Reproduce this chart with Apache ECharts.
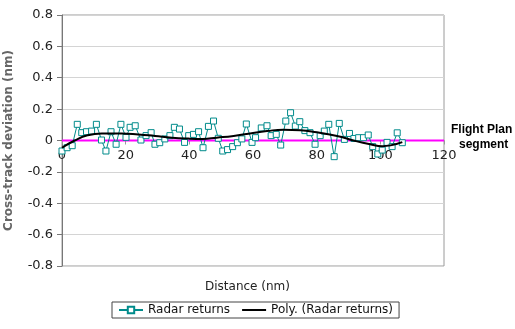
<!DOCTYPE html>
<html><head><meta charset="utf-8">
<script src="https://cdn.jsdelivr.net/npm/echarts@6/dist/echarts.min.js"></script>
<style>html,body{margin:0;padding:0;background:#fff;}#c{width:515px;height:329px;}</style>
</head><body><div id="c"></div>
<script>
var distance = [0, 1.6, 3.2, 4.8, 6.2, 7.7, 9.3, 10.8, 12.4, 13.8,
  15.4, 17.0, 18.5, 20.1, 21.4, 23.0, 24.8, 26.4, 28.0, 29.2,
  30.7, 32.3, 33.9, 35.3, 36.9, 38.5, 39.8, 41.3, 42.9, 44.3,
  46.0, 47.6, 49.1, 50.5, 52.0, 53.6, 55.1, 56.5, 57.9, 59.7,
  60.8, 62.6, 64.4, 65.7, 67.3, 68.7, 70.3, 71.8, 73.3, 74.7,
  76.3, 77.9, 79.5, 81.1, 82.4, 83.8, 85.5, 87.1, 88.7, 90.3,
  91.7, 93.2, 94.7, 96.2, 97.6, 99.2, 100.6, 102.1, 103.7, 105.3,
  106.9];
var radarReturns = [-0.067, -0.046, -0.033, 0.103, 0.05, 0.056, 0.06, 0.103, 0.003, -0.067,
  0.056, -0.024, 0.103, 0.02, 0.084, 0.094, 0.003, 0.031, 0.05, -0.024,
  -0.014, 0.01, 0.031, 0.084, 0.073, -0.012, 0.031, 0.039, 0.056, -0.046,
  0.09, 0.124, 0.014, -0.067, -0.058, -0.039, -0.014, 0.01, 0.105, -0.012,
  0.018, 0.08, 0.094, 0.031, 0.039, -0.029, 0.124, 0.177, 0.092, 0.12,
  0.063, 0.05, -0.024, 0.031, 0.06, 0.103, -0.103, 0.109, 0.007, 0.045,
  0.013, 0.018, 0.018, 0.035, -0.039, -0.086, -0.061, -0.012, -0.039, 0.049,
  -0.014];
var trendDistance = [0, 4, 8, 12.5, 18.7, 24, 29.2, 34.5, 39.7, 44.2, 48.6, 53.9, 59.1, 64.4, 69.6, 74.9, 80.1, 86.4, 91.6, 96.8, 100.6, 103.2, 106.9];
var trendValues = [-0.046, 0.0, 0.033, 0.045, 0.045, 0.039, 0.029, 0.018, 0.012, 0.01, 0.018, 0.029, 0.045, 0.06, 0.069, 0.066, 0.052, 0.029, 0.0, -0.024, -0.036, -0.031, -0.01];
var flightPlanDistance = [0, 120];
var flightPlanValues = [0, 0];
var xTicks = [0, 20, 40, 60, 80, 100, 120];
var yTicks = [-0.8, -0.6, -0.4, -0.2, 0, 0.2, 0.4, 0.6, 0.8];

function pairs(xs, ys){ return xs.map(function(x,i){ return [x, ys[i]]; }); }

var font = 'DejaVu Sans';
var gridTop = 15, gridBottom = 63, H = 329;
var zeroOffset = -((H - gridBottom) - gridTop) / 2;
var chart = echarts.init(document.getElementById('c'));
chart.setOption({
  animation: false,
  backgroundColor: '#fff',
  textStyle: {fontFamily: font},
  grid: {left: 62, right: 71, top: gridTop, bottom: gridBottom, show: true, borderColor: '#9a9a9a', borderWidth: 1,
    backgroundColor: 'transparent', containLabel: false, outerBoundsMode: 'none'},
  xAxis: {
    type: 'value', min: xTicks[0], max: xTicks[xTicks.length-1], interval: 20,
    position: 'bottom', offset: zeroOffset,
    axisLine: {onZero: false, lineStyle: {color: '#9a9a9a'}},
    axisTick: {show: true, length: 4, inside: false, lineStyle: {color: '#9a9a9a'}},
    axisLabel: {fontFamily: font, fontSize: 13, color: '#222', margin: 9},
    splitLine: {show: false}
  },
  yAxis: {
    type: 'value', min: yTicks[0], max: yTicks[yTicks.length-1], interval: 0.2,
    name: 'Cross-track deviation (nm)', nameLocation: 'middle', nameGap: 47,
    nameTextStyle: {fontFamily: font, fontSize: 12, fontWeight: 'bold', color: '#666'},
    axisLine: {show: true, lineStyle: {color: '#777'}},
    axisTick: {show: true, length: 5, lineStyle: {color: '#777'}},
    axisLabel: {fontFamily: font, fontSize: 13, color: '#222', margin: 9,
      formatter: function(v){ return String(Math.round(v*10)/10); }},
    splitLine: {show: true, lineStyle: {color: '#d4d4d4', width: 1}}
  },
  legend: {
    left: 112, top: 302,
    data: ['Radar returns', {name: 'Poly. (Radar returns)', icon: 'path://M0,0 L24,0 L24,2 L0,2 Z'}],
    borderColor: '#444', borderWidth: 1, padding: [2, 6, 2, 6],
    itemWidth: 24, itemHeight: 8, itemGap: 12,
    textStyle: {fontFamily: font, fontSize: 12, color: '#111'}
  },
  series: [
    {
      name: 'Flight Plan', type: 'line', data: pairs(flightPlanDistance, flightPlanValues),
      symbol: 'none', lineStyle: {color: '#ff00ff', width: 2}, z: 1, silent: true
    },
    {
      name: 'Radar returns', type: 'line', data: pairs(distance, radarReturns),
      symbol: 'rect', symbolSize: 6,
      lineStyle: {color: '#008b8b', width: 1},
      itemStyle: {color: '#fff', borderColor: '#008b8b', borderWidth: 1},
      z: 3
    },
    {
      name: 'Poly. (Radar returns)', type: 'line', data: pairs(trendDistance, trendValues),
      smooth: 0.5, symbol: 'none', lineStyle: {color: '#000', width: 2}, itemStyle: {color: '#000'}, z: 4
    }
  ],
  graphic: [
    {type: 'text', left: 451, top: 124, style: {text: 'Flight Plan', font: 'bold 12px "Liberation Sans"', fill: '#000'}},
    {type: 'text', left: 459, top: 139, style: {text: 'segment', font: 'bold 12px "Liberation Sans"', fill: '#000'}},
    {type: 'text', left: 205, top: 281, style: {text: 'Distance (nm)', font: '12px "DejaVu Sans"', fill: '#222'}}
  ]
});
</script></body></html>
